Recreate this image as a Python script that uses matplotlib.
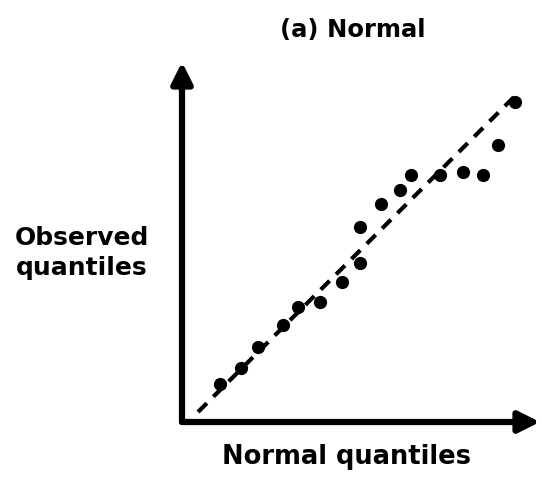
import matplotlib
matplotlib.use("Agg")
import matplotlib.pyplot as plt

normal_q = [0.38, 0.59, 0.76, 1.01, 1.16, 1.38, 1.60, 1.78, 1.78, 1.99, 2.18, 2.29, 2.58, 2.81, 3.01, 3.16, 3.33]
observed_q = [0.38, 0.54, 0.75, 0.97, 1.15, 1.20, 1.40, 1.59, 1.95, 2.18, 2.32, 2.47, 2.47, 2.50, 2.47, 2.77, 3.20]
ref_x = [0.16, 3.38]
ref_y = [0.10, 3.31]

title = "(a) Normal"
xlabel = "Normal quantiles"
ylabel = "Observed\nquantiles"

fig = plt.figure(figsize=(5.42, 4.80), dpi=100)
ax = fig.add_axes([182 / 542, 58 / 480, 358 / 542, 360 / 480])
ax.set_xlim(0, 3.58)
ax.set_ylim(0, 3.60)
for s in ax.spines.values():
    s.set_visible(False)
ax.set_xticks([])
ax.set_yticks([])
ax.patch.set_alpha(0)

# eixos com setas
arrow = dict(arrowstyle="-|>,head_length=0.9,head_width=0.45", lw=4.5, color="black",
             mutation_scale=14, shrinkA=0, shrinkB=0)
ax.annotate("", xy=(1.0, 0), xytext=(0, 0), xycoords="axes fraction", arrowprops=arrow)
ax.annotate("", xy=(0, 1.0), xytext=(0, 0), xycoords="axes fraction", arrowprops=arrow)

ax.plot(ref_x, ref_y, linestyle=(0, (3.0, 2.2)), color="black", lw=3)
ax.plot(normal_q, observed_q, "o", color="black", markersize=8.5)

fig.text(353 / 542, 1 - 30 / 480, title, ha="center", va="center", fontsize=17.5, fontweight="bold")
fig.text(347 / 542, 1 - 457 / 480, xlabel, ha="center", va="center", fontsize=18.5, fontweight="bold")
fig.text(82 / 542, 1 - 253 / 480, ylabel, ha="center", va="center", fontsize=18, fontweight="bold",
         linespacing=1.35)

fig.savefig("out.png", dpi=100)
